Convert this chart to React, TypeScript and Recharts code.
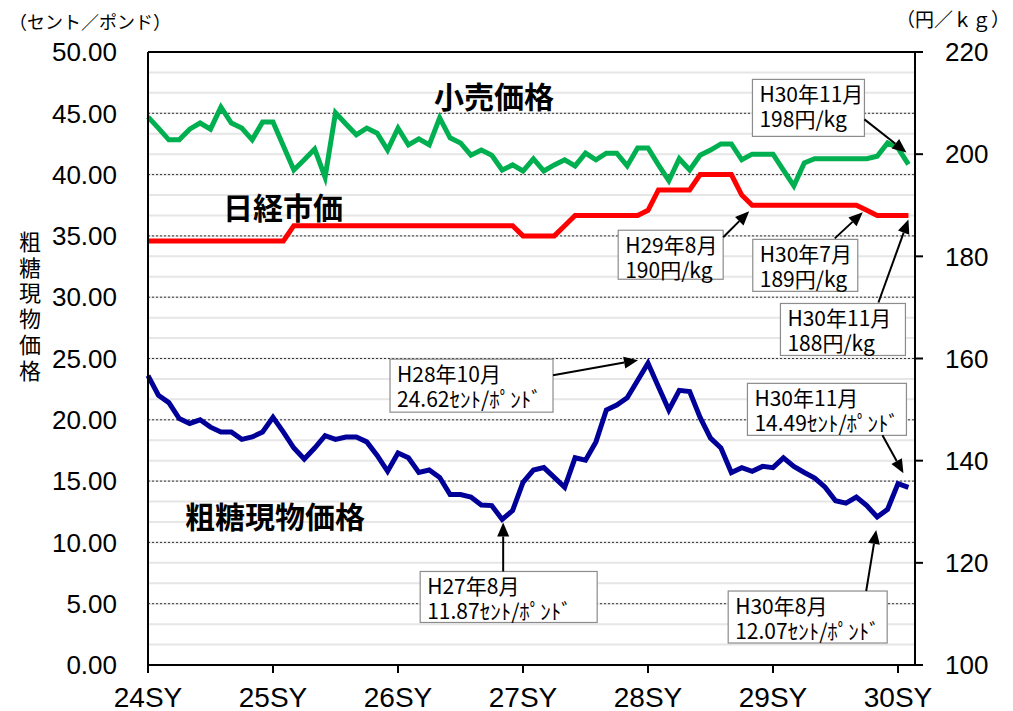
import { LineChart, Line, XAxis, YAxis, ReferenceLine, ReferenceDot } from 'recharts';

// months from H24/10 (24SY start) to H30/11
const yearTicks = [0, 12, 24, 36, 48, 60, 72];
const yearLabels = ['24SY', '25SY', '26SY', '27SY', '28SY', '29SY', '30SY'];

// 小売価格 (円/kg)
const retailPrice = [
  207.3, 205.1, 202.8, 202.8, 204.9, 206.1, 204.9, 209.2, 206.1, 205.1, 202.8, 206.3,
  206.3, 201.6, 196.9, 198.9, 201.0, 195.5, 208.1, 205.9, 203.8, 205.1, 204.1, 200.8,
  205.1, 201.8, 203.0, 201.8, 207.1, 203.2, 202.2, 199.8, 200.8, 199.8, 196.9, 197.9,
  196.7, 199.1, 196.7, 197.9, 198.9, 197.7, 200.2, 198.9, 200.2, 200.2, 197.7, 201.2,
  201.2, 197.9, 194.8, 199.1, 196.9, 199.8, 200.8, 202.0, 202.0, 198.9, 200.0, 200.0,
  200.0, 196.9, 193.8, 198.3, 199.1, 199.1, 199.1, 199.1, 199.1, 199.1, 199.6, 202.2,
  201.2, 198.0,
];

// 日経市価 (円/kg)
const nikkeiPrice = [
  183, 183, 183, 183, 183, 183, 183, 183, 183, 183, 183, 183,
  183, 183, 186, 186, 186, 186, 186, 186, 186, 186, 186, 186,
  186, 186, 186, 186, 186, 186, 186, 186, 186, 186, 186, 186,
  184, 184, 184, 184, 186, 188, 188, 188, 188, 188, 188, 188,
  189, 193, 193, 193, 193, 196, 196, 196, 196, 192, 190, 190,
  190, 190, 190, 190, 190, 190, 190, 190, 190, 189, 188, 188,
  188, 188,
];

// 粗糖現物価格 (セント/ポンド)
const rawSugar = [
  23.6, 22.0, 21.4, 20.1, 19.7, 20.0, 19.4, 19.0, 19.0, 18.4, 18.6, 19.0,
  20.2, 19.0, 17.7, 16.8, 17.7, 18.7, 18.4, 18.6, 18.6, 18.2, 17.1, 15.8,
  17.3, 16.9, 15.7, 15.9, 15.3, 13.9, 13.9, 13.7, 13.05, 13.0, 11.87, 12.6,
  14.9, 15.9, 16.1, 15.3, 14.5, 16.9, 16.7, 18.2, 20.8, 21.2, 21.8, 23.2,
  24.62, 22.7, 20.8, 22.4, 22.3, 20.2, 18.5, 17.7, 15.7, 16.1, 15.8, 16.2,
  16.1, 16.9, 16.2, 15.7, 15.25, 14.5, 13.4, 13.2, 13.7, 13.0, 12.07, 12.7,
  14.8, 14.49,
];

const leftTicks = [0, 5, 10, 15, 20, 25, 30, 35, 40, 45, 50];
const rightTicks = [100, 120, 140, 160, 180, 200, 220];
const dottedLines = [5, 10, 15, 20, 25, 30, 35, 40, 45];
const minorLines = Array.from({ length: 29 }, (_, k) => 104 + k * 4);

const data = rawSugar.map((v, i) => ({
  m: i,
  raw: v,
  retail: retailPrice[i],
  nikkei: nikkeiPrice[i],
}));

const FONT = 'Liberation Sans, Arial, sans-serif';
const JP = '"Noto Sans CJK JP", sans-serif';

type Callout = {
  axis: 'left' | 'right';
  idx: number;
  value: number;
  lines: string[];
  box: [number, number, number, number];
  tail: [number, number];
  tip: [number, number];
};

const callouts: Callout[] = [
  { axis: 'right', idx: 73, value: retailPrice[73], lines: ['H30年11月', '198円/kg'], box: [-156, -85, 112, 57], tail: [-44, -45], tip: [-2, -12] },
  { axis: 'right', idx: 58, value: nikkeiPrice[58], lines: ['H29年8月', '190円/kg'], box: [-134, 25, 105, 49], tail: [-29, 32], tip: [-3, 6] },
  { axis: 'right', idx: 69, value: nikkeiPrice[69], lines: ['H30年7月', '189円/kg'], box: [-114, 29, 105, 52], tail: [-32, 28], tip: [-4, 2] },
  { axis: 'right', idx: 73, value: nikkeiPrice[73], lines: ['H30年11月', '188円/kg'], box: [-128, 88, 125, 52], tail: [-30, 87], tip: [0, 4] },
  { axis: 'left', idx: 48, value: rawSugar[48], lines: ['H28年10月', '24.62ｾﾝﾄ/ﾎﾟﾝﾄﾞ'], box: [-258, -4, 163, 53], tail: [-95, 12], tip: [-10, -3] },
  { axis: 'left', idx: 73, value: rawSugar[73], lines: ['H30年11月', '14.49ｾﾝﾄ/ﾎﾟﾝﾄﾞ'], box: [-161, -104, 159, 52], tail: [-26, -52], tip: [-5, -14] },
  { axis: 'left', idx: 34, value: rawSugar[34], lines: ['H27年8月', '11.87ｾﾝﾄ/ﾎﾟﾝﾄﾞ'], box: [-82, 52, 177, 51], tail: [1, 52], tip: [1, 3] },
  { axis: 'left', idx: 70, value: rawSugar[70], lines: ['H30年8月', '12.07ｾﾝﾄ/ﾎﾟﾝﾄﾞ'], box: [-149, 74, 159, 52], tail: [-11, 74], tip: [-1, 13] },
];

const CalloutShape = ({ cx, cy, c }: { cx: number; cy: number; c: Callout }) => {
  const [bx, by, bw, bh] = c.box;
  const tx = cx + c.tail[0];
  const ty = cy + c.tail[1];
  const px = cx + c.tip[0];
  const py = cy + c.tip[1];
  const len = Math.hypot(px - tx, py - ty) || 1;
  const ux = (px - tx) / len;
  const uy = (py - ty) / len;
  const L = 14;
  const W = 6;
  const hx = px - ux * L;
  const hy = py - uy * L;
  const head = `${px},${py} ${hx - uy * W},${hy + ux * W} ${hx + uy * W},${hy - ux * W}`;
  return (
    <g>
      <rect x={cx + bx} y={cy + by} width={bw} height={bh} fill="#fff" stroke="#8c8c8c" strokeWidth={1.2} />
      {c.lines.map((t, k) => (
        <text key={k} x={cx + bx + 7} y={cy + by + 23 + k * 25} fontFamily={JP} fontSize={21} fill="#000">
          {t}
        </text>
      ))}
      <line x1={tx} y1={ty} x2={hx} y2={hy} stroke="#000" strokeWidth={2} />
      <polygon points={head} fill="#000" />
    </g>
  );
};

const leftTitle = '粗糖現物価格';
const rightTitle = '小売・日経市価';

export default function App() {
  return (
    <div style={{ position: 'absolute', left: 0, top: 0, width: 1013, height: 711, background: '#fff' }}>
      <LineChart width={1013} height={711} data={data} margin={{ top: 52, right: 0, bottom: 0, left: 48 }}>
        <XAxis
          dataKey="m"
          type="number"
          domain={[0, 73.63]}
          ticks={yearTicks}
          tickFormatter={(v: number) => yearLabels[yearTicks.indexOf(v)] ?? ''}
          height={46}
          tickSize={8}
          tickMargin={14}
          axisLine={{ stroke: '#000', strokeWidth: 2 }}
          tickLine={{ stroke: '#000', strokeWidth: 2 }}
          tick={{ fontSize: 28, fill: '#000', fontFamily: FONT }}
        />
        <YAxis
          yAxisId="left"
          domain={[0, 50]}
          ticks={leftTicks}
          tickFormatter={(v: number) => v.toFixed(2)}
          width={100}
          tickSize={0}
          tickMargin={31}
          tickLine={false}
          axisLine={{ stroke: '#000', strokeWidth: 2 }}
          tick={{ fontSize: 26, fill: '#000', fontFamily: FONT }}
        />
        <YAxis
          yAxisId="right"
          orientation="right"
          domain={[100, 220]}
          ticks={rightTicks}
          width={98}
          tickSize={8}
          tickMargin={22}
          axisLine={{ stroke: '#000', strokeWidth: 2 }}
          tickLine={{ stroke: '#000', strokeWidth: 2 }}
          tick={{ fontSize: 26, fill: '#000', fontFamily: FONT, textAnchor: 'start' }}
        />
        {minorLines.map((v) => (
          <ReferenceLine key={'g' + v} yAxisId="right" y={v} stroke="#e6e6e6" strokeWidth={2} />
        ))}
        {dottedLines.map((v) => (
          <ReferenceLine key={'d' + v} yAxisId="left" y={v} stroke="#333" strokeWidth={1} strokeDasharray="2 2" />
        ))}
        <ReferenceLine yAxisId="left" y={50} stroke="#000" strokeWidth={2} />
        <Line yAxisId="right" dataKey="retail" stroke="#00b050" strokeWidth={5} dot={false} isAnimationActive={false} />
        <Line yAxisId="right" dataKey="nikkei" stroke="#ff0000" strokeWidth={5} dot={false} isAnimationActive={false} />
        <Line yAxisId="left" dataKey="raw" stroke="#000099" strokeWidth={5} dot={false} isAnimationActive={false} />
        {callouts.map((c, k) => (
          <ReferenceDot
            key={'c' + k}
            yAxisId={c.axis}
            x={c.idx}
            y={c.value}
            r={0}
            ifOverflow="visible"
            shape={(p: any) => <CalloutShape cx={p.cx} cy={p.cy} c={c} />}
          />
        ))}
      </LineChart>
      <svg width={1013} height={711} style={{ position: 'absolute', left: 0, top: 0, pointerEvents: 'none' }}>
        <text x={9} y={29} fontFamily={JP} fontSize={18} fill="#000">（セント／ポンド）</text>
        <text x={896} y={27} fontFamily={JP} fontSize={19} fill="#000">（円／ｋｇ）</text>
        {leftTitle.split('').map((ch, k) => (
          <text key={k} x={30} y={240 + k * 25.7} fontFamily={JP} fontSize={22} fill="#000" textAnchor="middle" dominantBaseline="central">
            {ch}
          </text>
        ))}
        {rightTitle.split('').map((ch, k) => (
          <text key={k} x={1025} y={262 + k * 25.7} fontFamily={JP} fontSize={22} fill="#000" textAnchor="middle" dominantBaseline="central">
            {ch}
          </text>
        ))}
        <text x={494} y={95} fontFamily={JP} fontSize={30} fontWeight="bold" fill="#000" textAnchor="middle" dominantBaseline="central">小売価格</text>
        <text x={283} y={206} fontFamily={JP} fontSize={30} fontWeight="bold" fill="#000" textAnchor="middle" dominantBaseline="central">日経市価</text>
        <text x={275} y={515} fontFamily={JP} fontSize={30} fontWeight="bold" fill="#000" textAnchor="middle" dominantBaseline="central">粗糖現物価格</text>
      </svg>
    </div>
  );
}
